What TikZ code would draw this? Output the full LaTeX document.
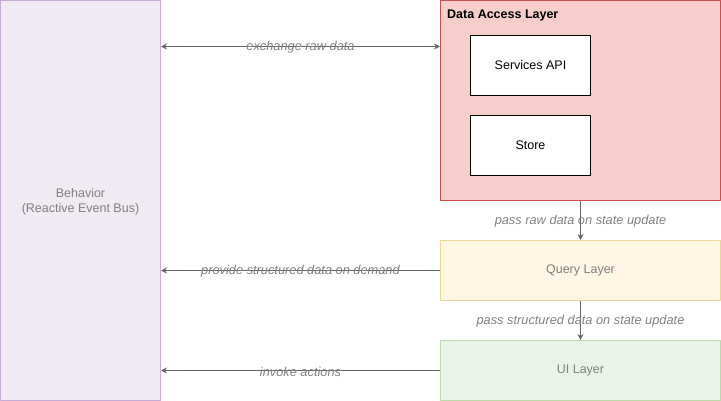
\documentclass[tikz,border=0pt]{standalone}
\usepackage{fontspec}
\setmainfont{Liberation Sans}
\usetikzlibrary{arrows.meta}
\definecolor{behfill}{HTML}{F0EAF3}
\definecolor{behline}{HTML}{C6ABD6}
\definecolor{dalfill}{HTML}{F8CECC}
\definecolor{dalline}{HTML}{C8504C}
\definecolor{qlfill}{HTML}{FFF7E3}
\definecolor{qlline}{HTML}{EDD796}
\definecolor{uifill}{HTML}{E9F3E8}
\definecolor{uiline}{HTML}{BCDBAC}
\definecolor{flow}{HTML}{666666}
\definecolor{faded}{HTML}{808080}
\tikzset{
  layer/.style={draw, line width=1pt, inner sep=0pt, minimum width=280pt, minimum height=60pt, text=faded},
  part/.style={draw=black, fill=white, line width=1pt, inner sep=0pt, minimum width=120pt, minimum height=60pt},
  flowline/.style={draw=flow, line width=1pt, -{Stealth[length=6pt,width=6pt]}},
  flowtext/.style={text=faded, font=\fontsize{12.8}{15}\selectfont\itshape, inner sep=1pt, yshift=-1pt}
}
\begin{document}
\begin{tikzpicture}[x=1pt, y=-1pt, font=\fontsize{12.5}{15}\selectfont, line join=round]
			\useasboundingbox (0,0) rectangle (721,401);
			% layers
			\node[layer, fill=behfill, draw=behline, minimum width=160pt, minimum height=400pt] (beh) at (80.5,200.5) {};
			\node[text=faded, align=center, inner sep=0pt] (behtext) at ([yshift=-1pt]beh.center) {Behavior\\(Reactive Event Bus)};
			\node[layer, fill=dalfill, draw=dalline, minimum height=200pt] (dal) at (580.5,100.5) {};
			\node[anchor=north west, inner sep=0pt, font=\fontsize{12.5}{15}\selectfont\bfseries] (daltitle) at ([shift={(7,10)}]dal.north west) {Data Access Layer};
			\node[part] (sapi) at (530.5,65.5) {Services API};
			\node[part] (store) at (530.5,145.5) {Store};
			\node[layer, fill=qlfill, draw=qlline] (ql) at (580.5,270.5) {\raisebox{-1pt}{Query Layer}};
			\node[layer, fill=uifill, draw=uiline] (ui) at (580.5,370.5) {\raisebox{-1pt}{UI Layer}};
			% connectors
			\coordinate (raw) at (300,46.5);
			\draw[flowline, {Stealth[length=6pt,width=6pt]}-{Stealth[length=6pt,width=6pt]}] (beh.east |- raw) -- (dal.west |- raw) node[midway, flowtext]{exchange raw data};
			\draw[flowline] (dal.south) -- (ql.north) node[midway, flowtext]{pass raw data on state update};
			\draw[flowline] (ql.south) -- (ui.north) node[midway, flowtext]{pass structured data on state update};
			\draw[flowline] (ql.west) -- (beh.east |- ql.west) node[midway, flowtext]{provide structured data on demand};
			\draw[flowline] (ui.west) -- (beh.east |- ui.west) node[midway, flowtext]{invoke actions};
		\end{tikzpicture}
\end{document}
